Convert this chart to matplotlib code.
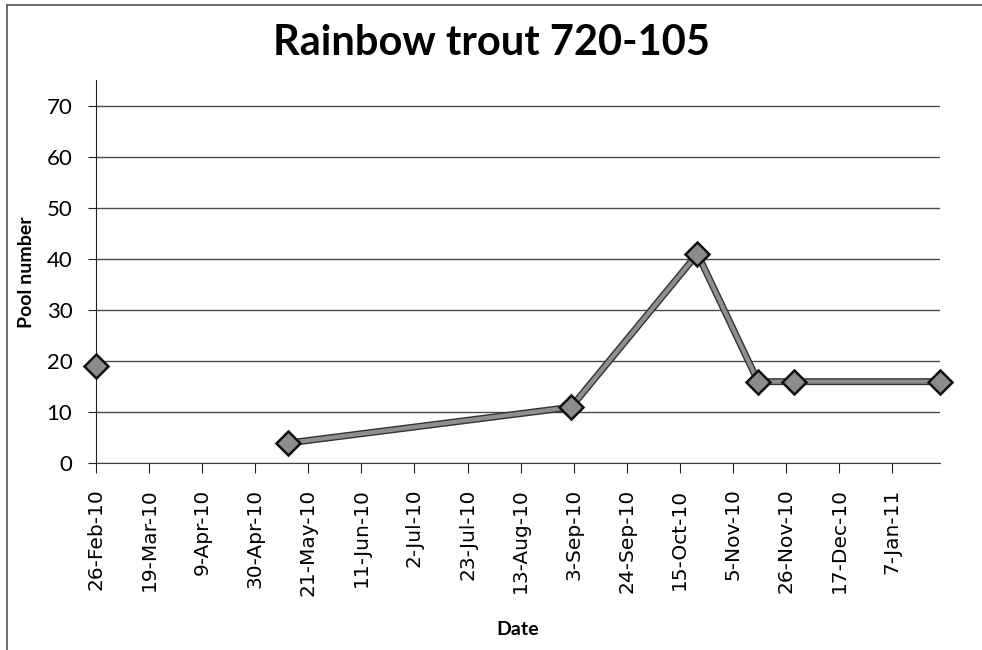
import datetime
import matplotlib
matplotlib.use("Agg")
import matplotlib.pyplot as plt
from matplotlib.lines import Line2D

# sampling dates and pool number
dates = ["2010-02-26", "2010-05-13", "2010-09-02", "2010-10-22",
         "2010-11-15", "2010-11-29", "2011-01-26"]
pool = [19, 4, 11, 41, 16, 16, 16]

x_start = datetime.date(2010, 2, 26)
x_end = datetime.date(2011, 1, 26)
y_ticks = [0, 10, 20, 30, 40, 50, 60, 70]

d = [datetime.datetime.strptime(s, "%Y-%m-%d") for s in dates]

fig = plt.figure(figsize=(9.82, 6.5), dpi=100)
ax = fig.add_axes([0.0978, 0.287, 0.8595, 0.59])

# first record stands alone, the rest are joined
ax.plot(d[1:], pool[1:], color="#333333", lw=5, solid_capstyle="round", zorder=3)
ax.plot(d[1:], pool[1:], color="#8f8f8f", lw=3, solid_capstyle="round", zorder=4)
ax.plot(d, pool, ls="none", marker="D", ms=12.5, mfc="#8c8c8c", mec="#111111",
        mew=1.8, zorder=5, clip_on=False)

ax.set_xlim(x_start, x_end)
ax.set_ylim(0, 75)
ax.set_yticks(y_ticks)

ticks = [x_start + datetime.timedelta(days=21 * i) for i in range(16)]
ax.set_xticks(ticks)
ax.set_xticklabels([f"{t.day}-{t.strftime('%b-%y')}" for t in ticks],
                   rotation=90, fontsize=14.5, family="DejaVu Sans")
for lab in ax.get_yticklabels():
    lab.set_fontsize(16)
    lab.set_family("Lato")

ax.yaxis.grid(True, color="#4a4a4a", lw=1.0)
ax.set_axisbelow(True)
for s in ["top", "right"]:
    ax.spines[s].set_visible(False)
ax.spines["left"].set_color("#222222")
ax.spines["bottom"].set_color("#444444")
ax.tick_params(axis="x", direction="out", length=7, color="#222222", pad=11)
ax.tick_params(axis="y", direction="out", length=6, color="#222222", pad=11)

ax.set_ylabel("Pool number", fontsize=14, fontweight="bold", family="Lato", labelpad=8)
ax.set_xlabel("Date", fontsize=14, fontweight="bold", family="Lato", labelpad=18)
fig.suptitle("Rainbow trout 720-105", fontsize=30, fontweight="bold",
             family="Lato", y=0.963)

# page frame from the scan
fig.add_artist(Line2D([7 / 982, 7 / 982], [0, 645 / 650], transform=fig.transFigure,
                      color="#555555", lw=1.2))
fig.add_artist(Line2D([7 / 982, 1], [645 / 650, 645 / 650], transform=fig.transFigure,
                      color="#555555", lw=1.2))

fig.savefig("out.png", dpi=100)
